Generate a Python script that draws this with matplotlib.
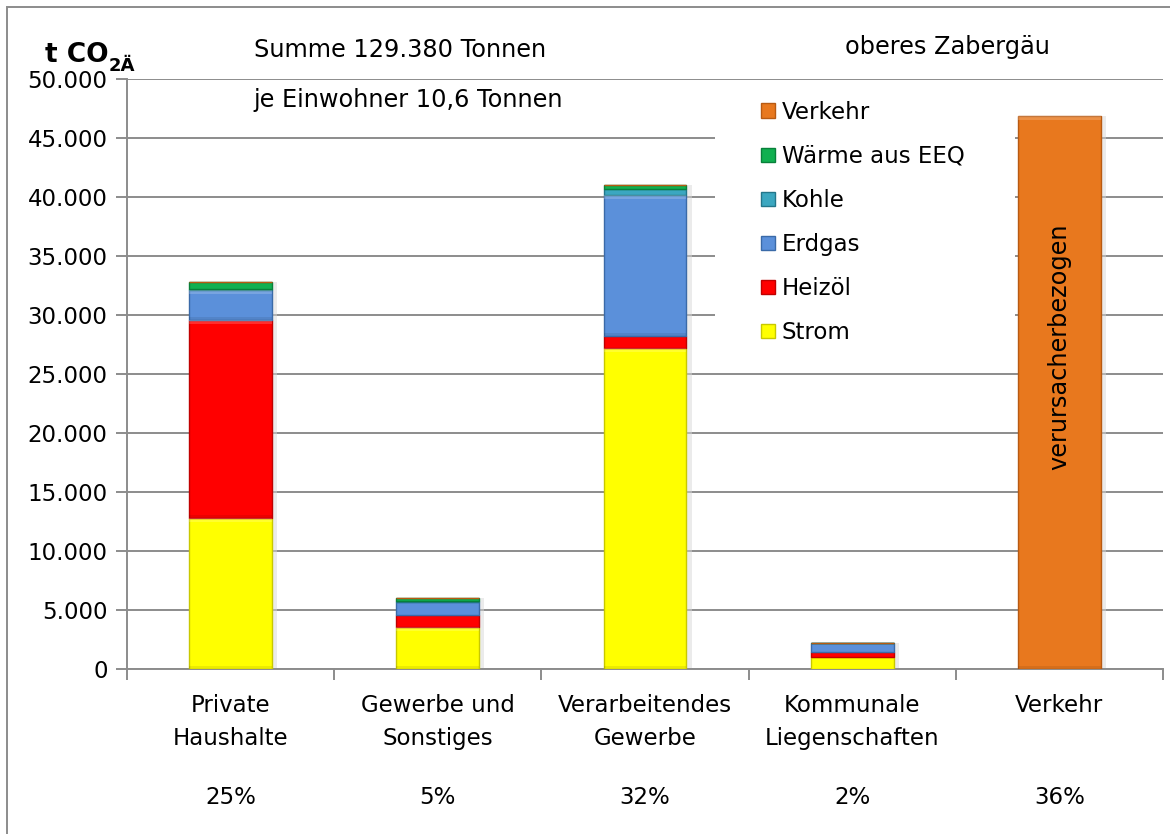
import matplotlib
matplotlib.use("Agg")
import matplotlib.pyplot as plt
from matplotlib.patches import Rectangle, Patch
import numpy as np

plt.rcParams['font.family'] = ['DejaVu Sans']

categories = ["Private\nHaushalte", "Gewerbe und\nSonstiges", "Verarbeitendes\nGewerbe",
              "Kommunale\nLiegenschaften", "Verkehr"]
shares = ["25%", "5%", "32%", "2%", "36%"]

strom = [12800, 3600, 27200, 1050, 0]
heizoel = [16800, 1000, 1050, 350, 0]
erdgas = [2500, 1100, 11950, 780, 0]
kohle = [100, 50, 500, 0, 0]
waerme_eeq = [600, 300, 300, 0, 0]
verkehr = [0, 0, 0, 0, 46900]

series = [
    ("Strom", strom, "#FFFF00", "#C8C800"),
    ("Heizöl", heizoel, "#FF0000", "#C00000"),
    ("Erdgas", erdgas, "#5B90DA", "#3A6AA8"),
    ("Kohle", kohle, "#3BA7C0", "#23768A"),
    ("Wärme aus EEQ", waerme_eeq, "#10B050", "#08803A"),
    ("Verkehr", verkehr, "#E8781E", "#B85A12"),
]

yticks = np.arange(0, 50001, 5000)
ytick_labels = [f"{v:,}".replace(",", ".") if v else "0" for v in yticks]

FS = 16.5
FS_TXT = 17.3

fig = plt.figure(figsize=(11.70, 8.34), dpi=100)
ax = fig.add_axes([127 / 1170, 1 - 669 / 834, (1163 - 127) / 1170, (669 - 79) / 834])

x = np.arange(len(categories))
width = 0.4
bottom = np.zeros(len(categories))
for name, vals, face, edge in series:
    vals = np.array(vals, dtype=float)
    ax.bar(x, vals, width, bottom=bottom, color=face, edgecolor=edge,
           linewidth=1.0, zorder=3, label=name)
    # soft bevel: lighter top band, darker bottom band on taller segments
    for xi, b, v in zip(x, bottom, vals):
        if v < 1500:
            continue
        ax.add_patch(Rectangle((xi - width / 2, b + v - 350), width, 350,
                               facecolor="white", alpha=0.18, linewidth=0, zorder=4))
        ax.add_patch(Rectangle((xi - width / 2, b), width, 250,
                               facecolor="black", alpha=0.08, linewidth=0, zorder=4))
    bottom += vals

# faint shadow to the right of each stacked column
for xi, tot in zip(x, bottom):
    ax.add_patch(Rectangle((xi + width / 2, 0), 0.025, tot, facecolor="#d8d8d8",
                           alpha=0.5, linewidth=0, zorder=2))

ax.set_xlim(-0.5, len(categories) - 0.5)
ax.set_ylim(0, 50000)
ax.set_yticks(yticks)
ax.set_yticklabels(ytick_labels, fontsize=FS)
ax.yaxis.grid(True, color="#8c8c8c", linewidth=1.4, zorder=0)
ax.set_axisbelow(True)

ax.set_xticks(np.arange(-0.5, len(categories), 1.0))
ax.set_xticklabels([])
ax.tick_params(axis="x", direction="out", length=8, color="#8c8c8c", width=1.4)
ax.tick_params(axis="y", direction="out", length=8, color="#8c8c8c", width=1.4, pad=6)

for s in ["top", "right"]:
    ax.spines[s].set_visible(False)
for s in ["left", "bottom"]:
    ax.spines[s].set_color("#8c8c8c")
    ax.spines[s].set_linewidth(1.4)

for xi, cat, sh in zip(x, categories, shares):
    ax.text(xi, -2150, cat, ha="center", va="top", fontsize=FS,
            linespacing=1.55, clip_on=False)
    ax.text(xi, -10900, sh, ha="center", va="center", fontsize=FS, clip_on=False)

ax.text(x[-1], 27300, "verursacherbezogen", rotation=90, ha="center", va="center",
        fontsize=FS_TXT, zorder=5)

# white panel behind the legend hides the gridlines there
ax.add_patch(Rectangle(((715 - 127) / 1036, (669 - 355) / 590),
                       (1015 - 715) / 1036, (355 - 88) / 590,
                       transform=ax.transAxes, facecolor="white", linewidth=0,
                       zorder=1))

handles = [Patch(facecolor=face, edgecolor=edge) for name, vals, face, edge in series][::-1]
labels = [name for name, *_ in series][::-1]
leg = ax.legend(handles, labels, loc="upper left", bbox_to_anchor=(0.591, 1.0),
                fontsize=FS, frameon=False, handlelength=0.6, handleheight=0.6,
                handletextpad=0.3, labelspacing=0.92, borderpad=0.45)

t_unit = fig.text(45 / 1170, 1 - 62 / 834, "t CO", fontsize=19, fontweight="semibold",
                  va="baseline", ha="left")
fig.canvas.draw()
bb = t_unit.get_window_extent()
fig.text(bb.x1 / 1170 + 0.5 / 1170, 1 - 71 / 834, "2Ä", fontsize=13,
         fontweight="semibold", va="baseline", ha="left")

fig.text(400 / 1170, 1 - 50 / 834, "Summe 129.380 Tonnen", fontsize=FS_TXT,
         ha="center", va="center")
fig.text(408 / 1170, 1 - 100 / 834, "je Einwohner 10,6 Tonnen", fontsize=FS_TXT,
         ha="center", va="center")
fig.text(947 / 1170, 1 - 47 / 834, "oberes Zabergäu", fontsize=FS_TXT,
         ha="center", va="center")

# outer frame
fig.patches.append(Rectangle((7 / 1170, -0.1), 1.2, 1 - 7 / 834 + 0.1,
                             transform=fig.transFigure, fill=False,
                             edgecolor="#8c8c8c", linewidth=1.4))

fig.savefig("out.png", dpi=100)
